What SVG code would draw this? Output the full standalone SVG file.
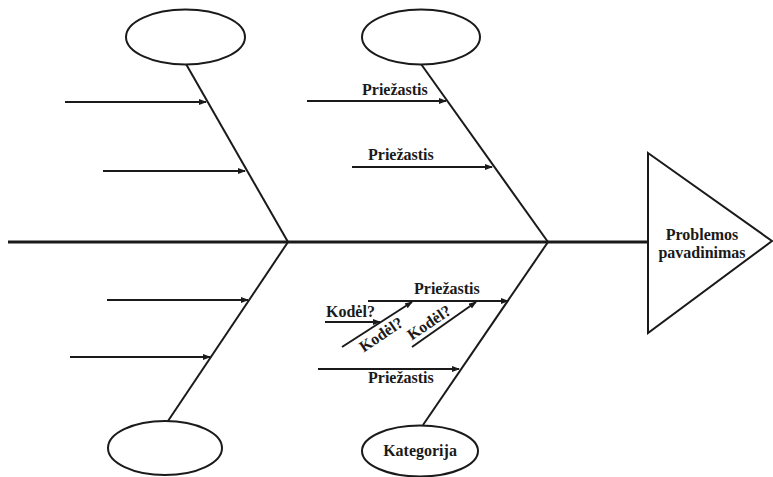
<svg xmlns="http://www.w3.org/2000/svg" width="773" height="477" viewBox="0 0 773 477">
<defs>
<marker id="ah" markerWidth="8" markerHeight="6" refX="7" refY="3" orient="auto" markerUnits="userSpaceOnUse">
<path d="M0,0 L8,3 L0,6 Z" fill="#1a1a1a"/>
</marker>
<style>
.ln{stroke:#1a1a1a;stroke-width:2;fill:none}
.ar{stroke:#1a1a1a;stroke-width:2;fill:none;marker-end:url(#ah)}
.el{stroke:#1a1a1a;stroke-width:2;fill:#fff}
.t{font-family:"Liberation Serif","Times New Roman",serif;font-weight:bold;font-size:16px;fill:#1a1a1a}
.c{text-anchor:middle}
</style>
</defs>
<rect width="773" height="477" fill="#fff"/>
<g id="connectors">
<line x1="8" y1="242" x2="648" y2="242" stroke="#1a1a1a" stroke-width="3"/>
<line class="ln" x1="186" y1="64" x2="288" y2="242"/>
<line class="ln" x1="421" y1="64" x2="548" y2="242"/>
<line class="ln" x1="288" y1="242" x2="168" y2="421"/>
<line class="ln" x1="548" y1="242" x2="423" y2="425"/>
<line class="ar" x1="65" y1="102" x2="206" y2="102"/>
<line class="ar" x1="103" y1="171" x2="245" y2="171"/>
<line class="ar" x1="307" y1="101" x2="446" y2="101"/>
<line class="ar" x1="352" y1="167" x2="492" y2="167"/>
<line class="ar" x1="107" y1="300" x2="248" y2="300"/>
<line class="ar" x1="70" y1="357" x2="210" y2="357"/>
<line class="ar" x1="368" y1="301" x2="508" y2="301"/>
<line class="ar" x1="318" y1="369" x2="459" y2="369"/>
<line class="ar" x1="325" y1="322" x2="380" y2="322"/>
<line class="ar" x1="342" y1="347" x2="412" y2="302"/>
<line class="ar" x1="412" y1="347" x2="476" y2="302"/>
</g>
<g id="n-cat-tl"><ellipse class="el" cx="185.5" cy="37" rx="59.5" ry="27.5"/></g>
<g id="n-cat-tm"><ellipse class="el" cx="421" cy="37" rx="59" ry="27.5"/></g>
<g id="n-cat-bl"><ellipse class="el" cx="165" cy="448" rx="57" ry="27"/></g>
<g id="n-cat-bm"><ellipse class="el" cx="420" cy="451" rx="58" ry="25.5"/><text class="t c" x="420" y="456">Kategorija</text></g>
<g id="n-problem">
<path d="M648,153 L772,241 L648,333 Z" class="el"/>
<text class="t c" x="702" y="240">Problemos</text>
<text class="t c" x="702" y="258">pavadinimas</text>
</g>
<g id="labels">
<text class="t" x="362" y="95">Priežastis</text>
<text class="t" x="368" y="160">Priežastis</text>
<text class="t" x="414" y="294">Priežastis</text>
<text class="t" x="368" y="383">Priežastis</text>
<text class="t" x="326" y="317">Kodėl?</text>
<text class="t c" transform="translate(384,339) rotate(-34)">Kodėl?</text>
<text class="t c" transform="translate(432,327) rotate(-34)">Kodėl?</text>
</g>
</svg>
